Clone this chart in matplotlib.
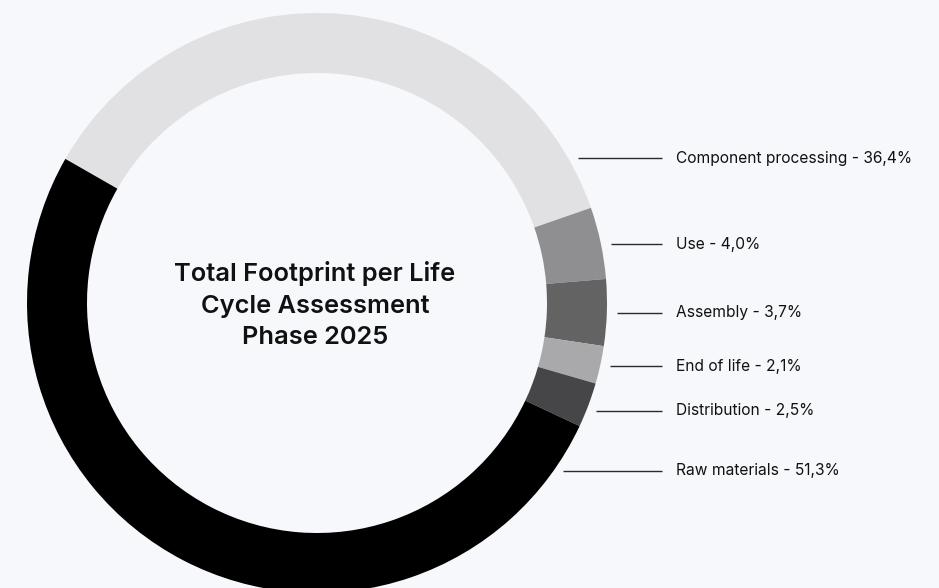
import matplotlib.pyplot as plt

# Footprint share per life cycle phase (%)
phases = ["Component processing", "Use", "Assembly", "End of life", "Distribution", "Raw materials"]
shares = [36.4, 4.0, 3.7, 2.1, 2.5, 51.3]
colors = ["#e1e1e3", "#8f8f91", "#636364", "#a9a9ab", "#464648", "#000000"]

# label rows on the right (pixel rows from the top of the figure)
label_rows = [158, 244, 313, 366, 411, 471]

W, H = 939, 588
bg = "#f7f8fb"

fig = plt.figure(figsize=(W / 100, H / 100), dpi=100, facecolor=bg)
ax = fig.add_axes([0, 0, 1, 1])
ax.set_facecolor(bg)

cx, cy = 317, H - 303
R, ring = 290, 60

ax.pie(shares, colors=colors, startangle=150.2, counterclock=False,
       radius=R, center=(cx, cy),
       wedgeprops=dict(width=ring, linewidth=0))

ax.set_xlim(0, W)
ax.set_ylim(0, H)
ax.set_aspect("equal")
ax.axis("off")

# leader lines + labels
for name, val, row in zip(phases, shares, label_rows):
    y = H - row
    dy = y - cy
    x0 = cx + (R ** 2 - dy ** 2) ** 0.5 + 10
    ax.plot([x0, 662], [y, y], color="#2b2b2b", lw=1.0, solid_capstyle="butt")
    txt = f"{name} - {val:.1f}%".replace(".", ",")
    ax.text(676, y, txt, ha="left", va="center", fontsize=11.2,
            family="Inter", color="#111111")

ax.text(cx - 2, H - 305, "Total Footprint per Life\nCycle Assessment\nPhase 2025",
        ha="center", va="center", fontsize=18.3, fontweight="semibold",
        family="Inter", color="#111111", linespacing=1.5)

fig.savefig("out.png", dpi=100, facecolor=bg)
